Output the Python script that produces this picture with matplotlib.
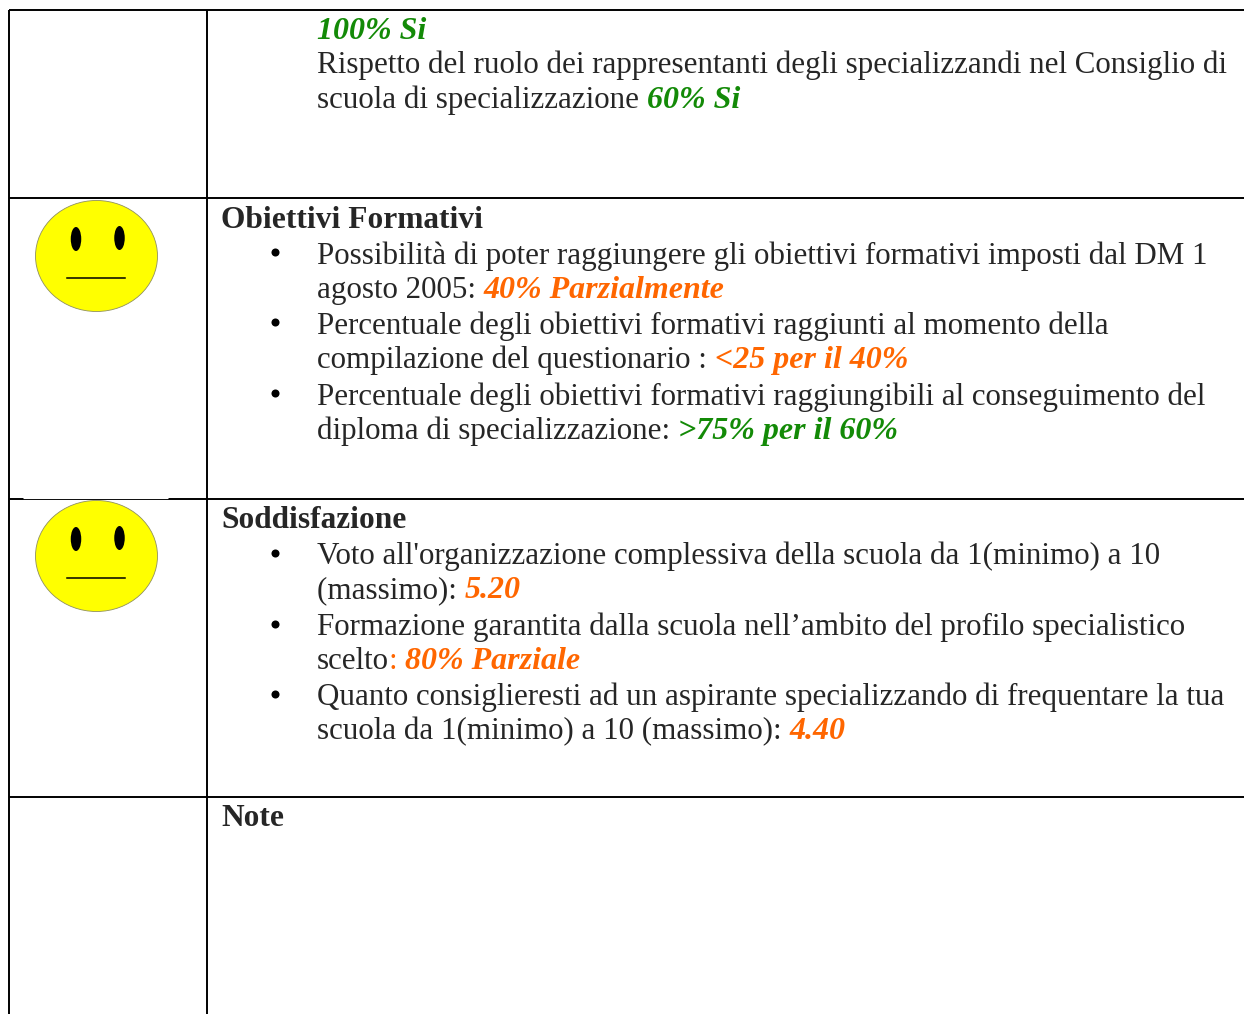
import matplotlib
matplotlib.use("Agg")
import matplotlib.pyplot as plt
from matplotlib.patches import Ellipse

W, H = 1244, 1014
GREEN = "#138a07"
ORANGE = "#ff6600"
DARK = "#262626"
families = ["Liberation Serif", "DejaVu Serif"]

# (x, baseline y, [(text, style)])
lines = [
    (317, 39, [("100% Si", "g")]),
    (317, 73, [("Rispetto del ruolo dei rappresentanti degli specializzandi nel Consiglio di", "n")]),
    (317, 108, [("scuola di specializzazione ", "n"), ("60% Si", "g")]),
    (221, 228, [("Obiettivi Formativi", "b")]),
    (317, 264, [("Possibilità di poter raggiungere gli obiettivi formativi imposti dal DM 1", "n")]),
    (317, 298, [("agosto 2005: ", "n"), ("40% Parzialmente", "o")]),
    (317, 334, [("Percentuale degli obiettivi formativi raggiunti al momento della", "n")]),
    (317, 368, [("compilazione del questionario : ", "n"), ("<25 per il 40%", "o")]),
    (317, 405, [("Percentuale degli obiettivi formativi raggiungibili al conseguimento del", "n")]),
    (317, 439, [("diploma di specializzazione: ", "n"), (">75% per il 60%", "g")]),
    (221, 528, [("Soddisfazione", "b")]),
    (317, 564, [("Voto all'organizzazione complessiva della scuola da 1(minimo) a 10", "n")]),
    (317, 598, [("(massimo): ", "n"), ("5.20", "o")]),
    (317, 635, [("Formazione garantita dalla scuola nell’ambito del profilo specialistico", "n")]),
    (317, 669, [("scelto", "n"), (": ", "oc"), ("80% Parziale", "o")]),
    (317, 705, [("Quanto consiglieresti ad un aspirante specializzando di frequentare la tua", "n")]),
    (317, 739, [("scuola da 1(minimo) a 10 (massimo): ", "n"), ("4.40", "o")]),
    (221, 826, [("Note", "b")]),
]
bullets_y = [252, 322, 393, 553, 624, 694]
row_lines = [10, 198, 499, 797]
col_lines = [9, 207]
face_centers = [(96.5, 256), (96.5, 556)]

fig = plt.figure(figsize=(W / 100, H / 100), dpi=100)
ax = fig.add_axes([0, 0, 1, 1])
ax.set_xlim(0, W)
ax.set_ylim(H, 0)
ax.axis("off")

for y in row_lines:
    ax.plot([9, W], [y, y], color="black", lw=1.4, solid_capstyle="butt")
for x in col_lines:
    ax.plot([x, x], [10, H], color="black", lw=1.4, solid_capstyle="butt")
ax.plot([23, 168], [498.2, 498.2], color="white", lw=0.8, solid_capstyle="butt")

for cx, cy in face_centers:
    ax.add_patch(Ellipse((cx, cy), 122, 111, fc="#ffff00", ec="#8f8f60", lw=0.6))
    ax.add_patch(Ellipse((cx - 20.5, cy - 17), 10.5, 24, fc="black", ec="none"))
    ax.add_patch(Ellipse((cx + 23, cy - 18), 10.5, 24, fc="black", ec="none"))
    ax.plot([cx - 29.5, cx + 28.5], [cy + 22, cy + 22], color="black", lw=1.1)

styles = {
    "n": dict(color=DARK, fontsize=22.3),
    "b": dict(color=DARK, fontweight="bold", fontsize=22.6),
    "g": dict(color=GREEN, fontweight="bold", fontstyle="italic", fontsize=23.0),
    "o": dict(color=ORANGE, fontweight="bold", fontstyle="italic", fontsize=23.0),
    "oc": dict(color=ORANGE, fontsize=22.3),
}
fig.canvas.draw()
r = fig.canvas.get_renderer()
for x0, y0, parts in lines:
    x = x0
    for txt, st in parts:
        ax.text(x, y0, txt, family=families, va="baseline", ha="left", **styles[st])
        # advance by measured width, keeping trailing spaces
        probe = ax.text(0, 0, txt.replace(" ", "\u00a0"), family=families, **styles[st])
        x += probe.get_window_extent(r).width
        probe.remove()
ax.plot([275] * len(bullets_y), bullets_y, ls="none", marker="o", ms=5.8, color="black", mew=0)

fig.savefig("out.png", dpi=100)
